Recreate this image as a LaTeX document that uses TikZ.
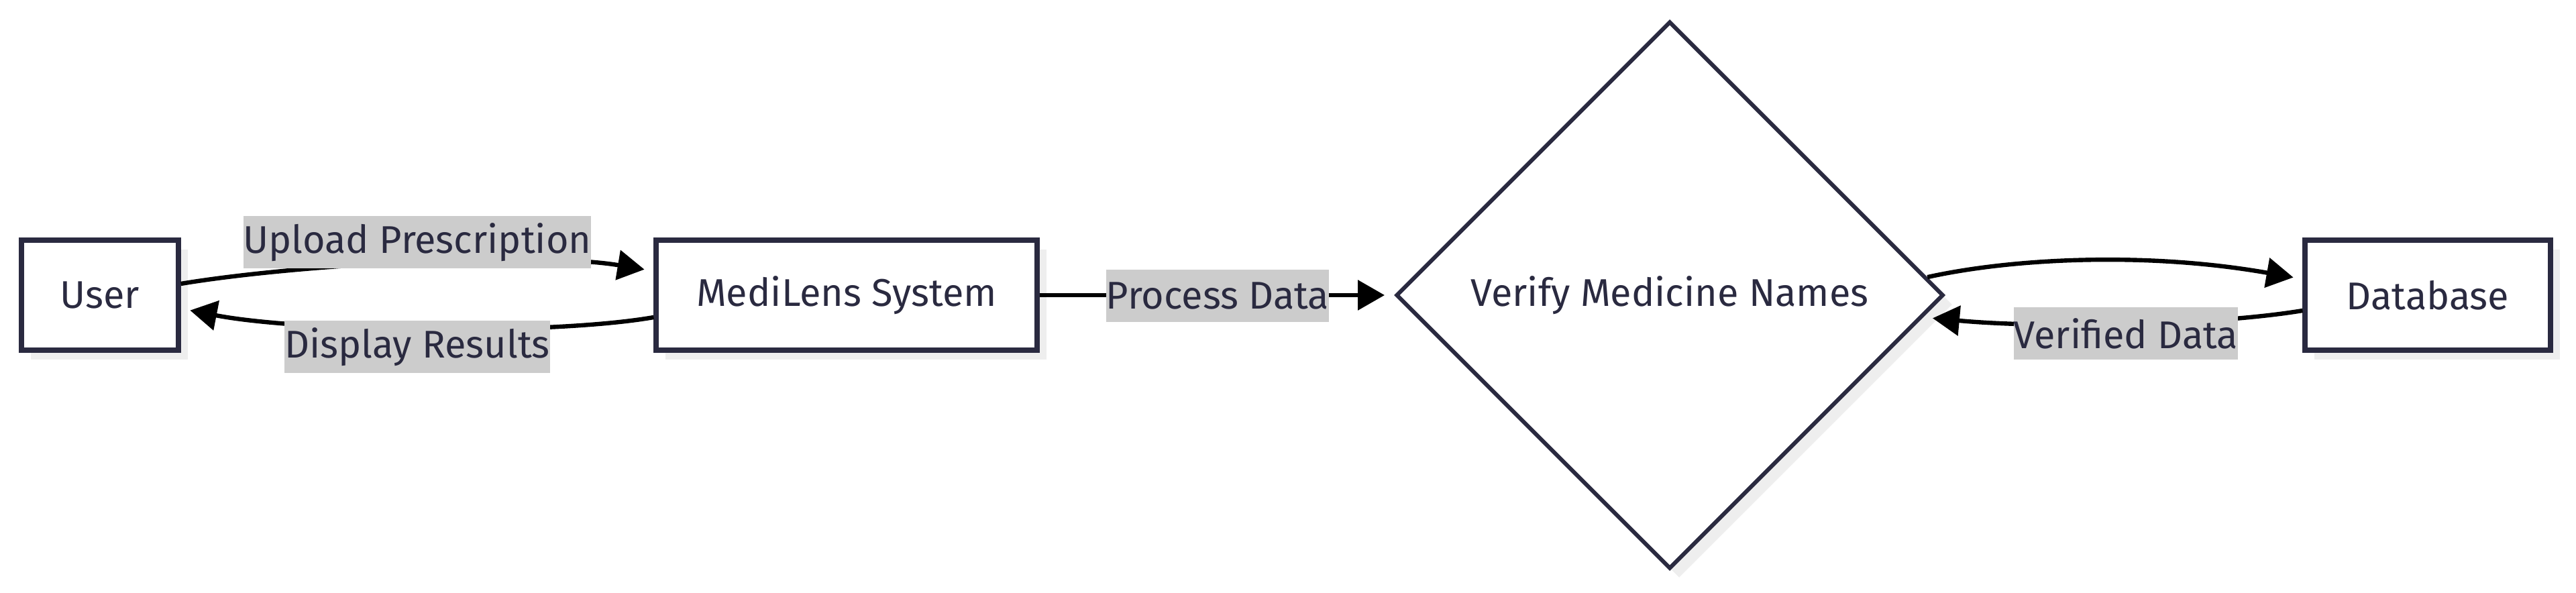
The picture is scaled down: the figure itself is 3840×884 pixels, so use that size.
\documentclass[tikz,border=0pt]{standalone}
\usepackage{fontspec}
\setmainfont{Fira Sans}
\usetikzlibrary{arrows.meta, shapes.geometric, shadows}
\definecolor{ink}{HTML}{2A2A40}
\definecolor{lblgray}{HTML}{CCCCCC}
\definecolor{shade}{HTML}{EEEEEE}
\tikzset{shade/.style = {drop shadow = {fill = shade, opacity = 1, shadow xshift = 3.5pt, shadow yshift = -3.5pt}}}
\tikzset{box/.style = {shape = rectangle, draw = ink, line width = 1.8pt, fill = white, text = ink, minimum height = 41pt, font = \fontsize{14.4pt}{17pt}\selectfont, shade}}
\tikzset{decision/.style = {shape = diamond, draw = ink, line width = 1.5pt, fill = white, text = ink, aspect = 1, inner sep = 0pt, minimum width = 204pt, minimum height = 204pt, font = \fontsize{14.4pt}{17pt}\selectfont, shade}}
\tikzset{lbl/.style = {fill = lblgray, text = ink, inner xsep = 0pt, inner ysep = 0pt, minimum height = 19.5pt, font = \fontsize{14.4pt}{17pt}\selectfont}}
\tikzset{edge/.style = {line width = 1.6pt, -{Triangle[length = 10pt, width = 11pt]}, shorten > = 3.5pt}}

\begin{document}
\begin{tikzpicture}[x = 0.25pt, y = 0.25pt]
	\useasboundingbox (0, 0) rectangle (3840, -884);

	\node[box, minimum width = 58.5pt] (user) at (149, -440) {User};
	\node[box, minimum width = 142pt] (sys) at (1262, -440) {MediLens System};
	\node[decision] (ver) at (2489, -440) {Verify Medicine Names};
	\node[box, minimum width = 91.5pt] (db) at (3619, -440) {Database};

	\draw[edge] ([yshift = 4.25pt]user.east) .. controls (450, -393) and (800, -375) .. ([yshift = 9pt]sys.west);
	\draw[edge] ([yshift = -8.25pt]sys.west) .. controls (820, -500) and (450, -495) .. ([yshift = -5pt]user.east);
	\draw[edge] (sys.east) -- (ver.west);
	\draw[edge] (ver.4.5) .. controls (3000, -385) and (3200, -375) .. ([yshift = 6pt]db.west);
	\draw[edge] ([yshift = -5.75pt]db.west) .. controls (3300, -485) and (3050, -490) .. (ver.-5);

	\node[lbl] (upl) at (622, -361) {Upload Prescription};
	\node[lbl] (dsp) at (622, -517) {Display Results};
	\node[lbl] (prc) at (1815, -441) {Process Data};
	\node[lbl] (vfd) at (3169, -497) {Verified Data};
\end{tikzpicture}
\end{document}
